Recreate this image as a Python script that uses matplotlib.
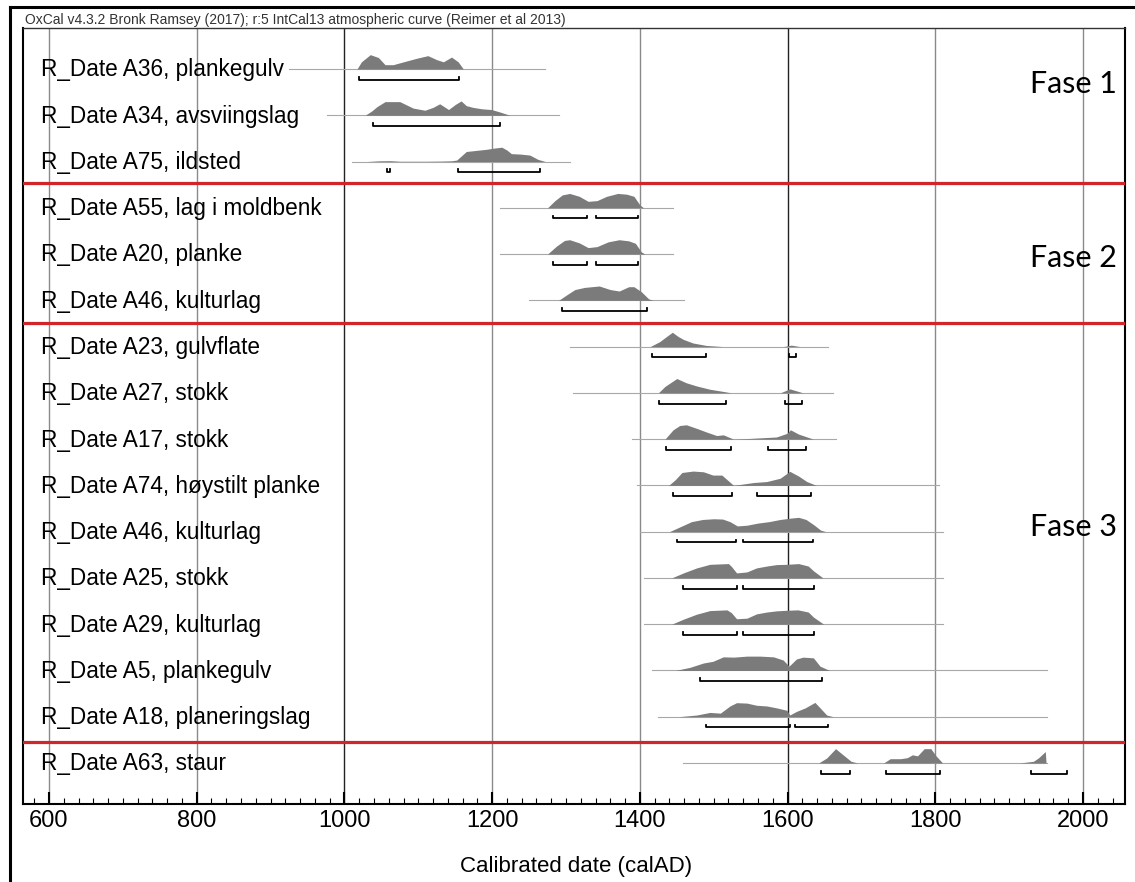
import matplotlib.pyplot as plt
from matplotlib.lines import Line2D
from matplotlib.ticker import MultipleLocator
import matplotlib.transforms as mtransforms

header = 'OxCal v4.3.2 Bronk Ramsey (2017); r:5 IntCal13 atmospheric curve (Reimer et al 2013)'
xlabel = 'Calibrated date (calAD)'

labels = ['R_Date A36, plankegulv', 'R_Date A34, avsviingslag', 'R_Date A75, ildsted',
          'R_Date A55, lag i moldbenk', 'R_Date A20, planke', 'R_Date A46, kulturlag',
          'R_Date A23, gulvflate', 'R_Date A27, stokk', 'R_Date A17, stokk',
          'R_Date A74, høystilt planke', 'R_Date A46, kulturlag', 'R_Date A25, stokk',
          'R_Date A29, kulturlag', 'R_Date A5, plankegulv', 'R_Date A18, planeringslag',
          'R_Date A63, staur']

# extent of the thin grey line under each distribution
line_start = [925, 976, 1010, 1210, 1210, 1250, 1305, 1310, 1389, 1396, 1400, 1405, 1405, 1416, 1425, 1459]
line_end = [1271, 1290, 1305, 1445, 1445, 1460, 1655, 1662, 1665, 1805, 1810, 1811, 1811, 1951, 1951, 1951]

# probability distributions (calendar year, relative height)
dist_years = [
    [1017, 1023, 1035, 1046, 1055, 1066, 1080, 1098, 1113, 1125, 1134, 1145, 1154, 1161],
    [1028, 1037, 1044, 1055, 1075, 1093, 1109, 1120, 1129, 1141, 1150, 1158, 1165, 1174, 1186, 1199, 1211, 1224],
    [1030, 1048, 1062, 1075, 1110, 1130, 1145, 1152, 1165, 1174, 1183, 1192, 1202, 1213, 1220, 1226, 1238, 1251, 1262, 1272],
    [1275, 1285, 1295, 1305, 1318, 1330, 1342, 1355, 1370, 1382, 1392, 1400, 1405],
    [1275, 1287, 1298, 1305, 1318, 1330, 1342, 1357, 1372, 1385, 1394, 1402, 1407],
    [1290, 1300, 1312, 1325, 1345, 1360, 1372, 1385, 1392, 1402, 1412, 1418],
    [1414, 1427, 1436, 1444, 1452, 1459, 1472, 1490, 1513, 1594, 1605, 1617],
    [1425, 1434, 1450, 1463, 1477, 1495, 1513, 1524, 1590, 1603, 1621],
    [1434, 1445, 1454, 1463, 1477, 1490, 1504, 1513, 1527, 1549, 1585, 1599, 1604, 1615, 1635],
    [1439, 1448, 1457, 1472, 1486, 1499, 1511, 1527, 1554, 1572, 1590, 1603, 1615, 1626, 1639],
    [1440, 1455, 1470, 1485, 1500, 1512, 1522, 1532, 1545, 1560, 1575, 1590, 1605, 1615, 1625, 1635, 1645, 1652],
    [1443, 1459, 1477, 1495, 1520, 1524, 1531, 1545, 1558, 1572, 1585, 1599, 1615, 1628, 1635, 1648],
    [1443, 1459, 1477, 1495, 1518, 1524, 1531, 1545, 1558, 1572, 1585, 1599, 1614, 1628, 1635, 1649],
    [1448, 1468, 1486, 1499, 1513, 1527, 1545, 1563, 1581, 1594, 1602, 1612, 1621, 1635, 1644, 1657],
    [1452, 1477, 1495, 1509, 1522, 1531, 1545, 1558, 1572, 1585, 1599, 1603, 1612, 1624, 1637, 1644, 1653, 1662],
    [1642, 1653, 1665, 1674, 1686, 1695, 1730, 1739, 1753, 1762, 1769, 1776, 1785, 1794, 1801, 1810, 1914, 1933, 1940, 1949, 1950],
]
dist_heights = [
    [0, 0.5, 1.0, 0.8, 0.3, 0.3, 0.5, 0.75, 0.93, 0.65, 0.5, 0.83, 0.5, 0],
    [0, 0.3, 0.6, 0.95, 0.95, 0.5, 0.35, 0.55, 0.8, 0.4, 0.75, 1.0, 0.67, 0.55, 0.45, 0.4, 0.22, 0],
    [0, 0.05, 0.06, 0.02, 0.02, 0.03, 0.05, 0.1, 0.7, 0.75, 0.8, 0.85, 0.93, 1.0, 0.8, 0.55, 0.52, 0.45, 0.15, 0],
    [0, 0.5, 0.9, 1.0, 0.8, 0.45, 0.5, 0.8, 1.0, 0.95, 0.8, 0.2, 0],
    [0, 0.55, 0.95, 1.0, 0.78, 0.45, 0.52, 0.85, 1.0, 0.92, 0.75, 0.15, 0],
    [0, 0.35, 0.75, 0.9, 1.0, 0.75, 0.65, 0.95, 0.95, 0.6, 0.1, 0],
    [0, 0.35, 0.7, 1.0, 0.7, 0.5, 0.25, 0.08, 0, 0, 0.1, 0],
    [0, 0.45, 1.0, 0.7, 0.48, 0.25, 0.1, 0, 0, 0.28, 0],
    [0, 0.65, 0.95, 1.0, 0.75, 0.5, 0.25, 0.3, 0, 0.05, 0.15, 0.4, 0.65, 0.35, 0],
    [0, 0.4, 0.9, 1.0, 0.95, 0.72, 0.72, 0, 0.2, 0.27, 0.5, 0.98, 0.65, 0.27, 0],
    [0, 0.35, 0.7, 0.85, 0.9, 0.88, 0.7, 0.4, 0.45, 0.6, 0.7, 0.85, 0.95, 1.0, 0.85, 0.5, 0.1, 0],
    [0, 0.35, 0.7, 0.95, 1.0, 0.8, 0.35, 0.42, 0.7, 0.83, 0.93, 0.95, 1.0, 0.83, 0.5, 0],
    [0, 0.35, 0.7, 0.95, 1.0, 0.8, 0.38, 0.42, 0.72, 0.85, 0.93, 0.97, 1.0, 0.85, 0.5, 0],
    [0, 0.22, 0.52, 0.64, 0.95, 0.93, 1.0, 1.0, 0.95, 0.73, 0.3, 0.8, 0.93, 0.88, 0.3, 0],
    [0, 0.12, 0.3, 0.25, 0.75, 0.98, 0.95, 0.8, 0.75, 0.62, 0.45, 0.12, 0.37, 0.62, 1.0, 0.62, 0.12, 0],
    [0, 0.35, 1.0, 0.62, 0.12, 0, 0, 0.3, 0.3, 0.37, 0.57, 0.5, 1.0, 1.0, 0.5, 0, 0, 0.12, 0.37, 0.8, 0],
]

# 95.4% ranges
ranges = [
    [(1020, 1155)],
    [(1039, 1210)],
    [(1058, 1062), (1154, 1265)],
    [(1283, 1328), (1340, 1397)],
    [(1283, 1328), (1340, 1397)],
    [(1295, 1410)],
    [(1416, 1490), (1602, 1611)],
    [(1426, 1516), (1597, 1619)],
    [(1435, 1523), (1574, 1625)],
    [(1445, 1525), (1558, 1632)],
    [(1450, 1530), (1540, 1635)],
    [(1458, 1531), (1539, 1636)],
    [(1458, 1531), (1539, 1636)],
    [(1482, 1646)],
    [(1490, 1603), (1610, 1655)],
    [(1645, 1685), (1733, 1807), (1929, 1979)],
]

phases = ['Fase 1', 'Fase 2', 'Fase 3']

plt.rcParams['font.family'] = ['Liberation Sans', 'DejaVu Sans']

fig = plt.figure(figsize=(11.35, 8.82), dpi=100)
ax = fig.add_axes([23 / 1135, 78 / 882, 1102 / 1135, 776 / 882])

n = len(labels)
h_scale = 0.31
for i in range(n):
    ax.plot([line_start[i], line_end[i]], [i, i], color='#a8a8a8', lw=0.8, zorder=2)
    ys = [i - h * h_scale for h in dist_heights[i]]
    ax.fill_between(dist_years[i], i, ys, color='#7b7b7b', lw=0, zorder=3)
    yb = i + 0.23
    for a, b in ranges[i]:
        ax.plot([a, a, b, b], [yb - 0.06, yb, yb, yb - 0.06], color='black', lw=1.3, zorder=4)

trans = mtransforms.blended_transform_factory(ax.transAxes, ax.transData)
for i, lab in enumerate(labels):
    ax.text(0.016, i + 0.02, lab, transform=trans, fontsize=16.3, va='center', ha='left', zorder=5)

# phase separators
for yb in [2.46, 5.49, 14.54]:
    ax.axhline(yb, color='#d0252b', lw=2.3, zorder=6)

for lab, yp in zip(phases, [0.32, 4.08, 9.9]):
    ax.text(0.9927, yp, lab, transform=trans, fontsize=22, family='Lato',
            ha='right', va='center', zorder=5)

# grid lines at the labelled years
for yr in range(600, 2001, 200):
    c = '#222222' if yr in (1000, 1600) else '#8a8a8a'
    ax.axvline(yr, color=c, lw=1.0, zorder=1)

ax.set_xlim(564.8, 2056.9)
ax.set_ylim(15.886, -0.886)
ax.set_xticks(range(600, 2001, 200))
ax.xaxis.set_minor_locator(MultipleLocator(20))
ax.set_yticks([])
ax.tick_params(axis='x', which='major', direction='in', length=9, width=1.5, labelsize=17, pad=4)
ax.tick_params(axis='x', which='minor', direction='in', length=4, width=0.8)
for s in ['left', 'bottom', 'right']:
    ax.spines[s].set_linewidth(1.5)
    ax.spines[s].set_color('black')
ax.spines['top'].set_linewidth(1.0)
ax.spines['top'].set_color('#333333')

ax.set_xlabel(xlabel, fontsize=16)
ax.xaxis.set_label_coords(0.5018, -0.08)
ax.xaxis.label.set_va('center')

fig.text(25 / 1135, 1 - 20 / 882, header, fontsize=10, color='#333333', va='center', ha='left')

# outer frame of the original image
fig.add_artist(Line2D([10 / 1135, 1], [1 - 7 / 882, 1 - 7 / 882], color='black', lw=2.2))
fig.add_artist(Line2D([10 / 1135, 10 / 1135], [0, 1 - 7 / 882], color='black', lw=2.2))

fig.savefig('out.png', dpi=100)
